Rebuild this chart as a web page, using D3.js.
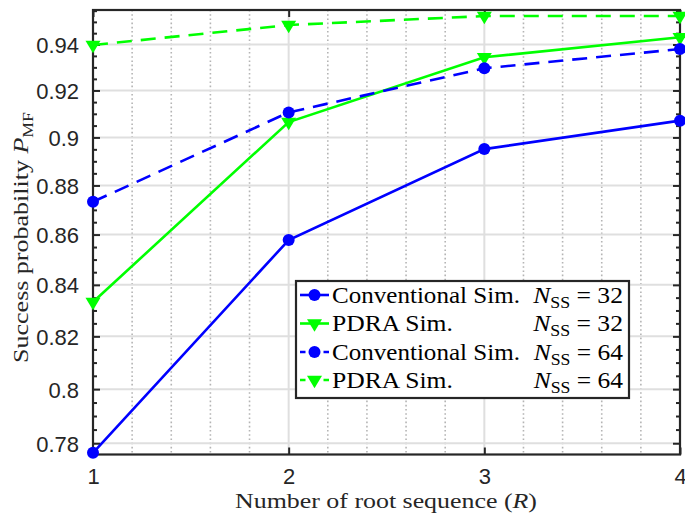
<!DOCTYPE html>
<html><head><meta charset="utf-8">
<script src="https://cdn.jsdelivr.net/npm/d3@7"></script>
<style>body{margin:0;background:#fff}</style>
</head><body>
<svg id="chart" width="685" height="516"></svg>
<script>
// ---- data ----
const roots = [1, 2, 3, 4];
const convSim32 = [0.7765, 0.8578, 0.8951, 0.9071];
const pdraSim32 = [0.8333, 0.9065, 0.9344, 0.9432];
const convSim64 = [0.8733, 0.9106, 0.9296, 0.9380];
const pdraSim64 = [0.9398, 0.9486, 0.9526, 0.9526];
const yTicks = [0.78, 0.80, 0.82, 0.84, 0.86, 0.88, 0.90, 0.92, 0.94];
const yTickLabels = ["0.78", "0.8", "0.82", "0.84", "0.86", "0.88", "0.9", "0.92", "0.94"];
const xTicks = [1, 2, 3, 4];
const xTickLabels = ["1", "2", "3", "4"];
const yDomain = [0.7759, 0.9553];
const xDomain = [1, 4];
const legendNames = ["Conventional Sim.", "PDRA Sim.", "Conventional Sim.", "PDRA Sim."];
const legendN = ["32", "32", "64", "64"];

// ---- styles ----
const series = [
  {vals: convSim32, color: "#0000ff", dashed: false, marker: "circle"},
  {vals: pdraSim32, color: "#00ff00", dashed: false, marker: "tri"},
  {vals: convSim64, color: "#0000ff", dashed: true, marker: "circle"},
  {vals: pdraSim64, color: "#00ff00", dashed: true, marker: "tri"}
];
const L = 93, R = 680, T = 10, B = 454.5;
const svg = d3.select("#chart");
const x = d3.scaleLinear().domain(xDomain).range([L, R]);
const y = d3.scaleLog().domain(yDomain).range([B, T]);
const axisColor = "#262626";
const serif = "'Liberation Serif','Times New Roman',serif";
const sans = "'Liberation Sans',Arial,Helvetica,sans-serif";

// grid
const g = svg.append("g");
const minorX = d3.range(5, 21).filter(i => i % 5 !== 0).map(i => i * 0.2);
g.selectAll(".mx").data(minorX).enter().append("line")
  .attr("x1", d => x(d)).attr("x2", d => x(d)).attr("y1", T).attr("y2", B)
  .attr("stroke", "#b4b4b4").attr("stroke-width", 1.6).attr("stroke-dasharray", "1.6,2.6");
g.selectAll(".gy").data(yTicks).enter().append("line")
  .attr("x1", L).attr("x2", R).attr("y1", d => y(d)).attr("y2", d => y(d))
  .attr("stroke", "#dfdfdf").attr("stroke-width", 2);
g.selectAll(".gx").data(xTicks.slice(1, -1)).enter().append("line")
  .attr("x1", d => x(d)).attr("x2", d => x(d)).attr("y1", T).attr("y2", B)
  .attr("stroke", "#dfdfdf").attr("stroke-width", 2);

// axes via d3 axis generators
const minorY = d3.range(156, 192).filter(i => i % 4 !== 0).map(i => i * 0.005);
function styleAxis(sel) {
  sel.select(".domain").remove();
  sel.selectAll(".tick line").attr("stroke", axisColor).attr("stroke-width", 2);
  sel.selectAll(".tick text").attr("fill", axisColor).style("font-family", sans).style("font-size", "22px");
}
const yLeft = svg.append("g").attr("transform", `translate(${L},0)`)
  .call(d3.axisLeft(y).tickValues(yTicks).tickFormat((d, i) => yTickLabels[i]).tickSizeInner(-7).tickSizeOuter(0).tickPadding(14));
styleAxis(yLeft);
yLeft.selectAll(".tick text").attr("dy", "0.36em");
const yLeftMinor = svg.append("g").attr("transform", `translate(${L},0)`)
  .call(d3.axisLeft(y).tickValues(minorY).tickFormat("").tickSizeInner(-4).tickSizeOuter(0));
styleAxis(yLeftMinor);
const yRight = svg.append("g").attr("transform", `translate(${R},0)`)
  .call(d3.axisRight(y).tickValues(yTicks).tickFormat("").tickSizeInner(-7).tickSizeOuter(0));
styleAxis(yRight);
const yRightMinor = svg.append("g").attr("transform", `translate(${R},0)`)
  .call(d3.axisRight(y).tickValues(minorY).tickFormat("").tickSizeInner(-4).tickSizeOuter(0));
styleAxis(yRightMinor);
const xBottom = svg.append("g").attr("transform", `translate(0,${B})`)
  .call(d3.axisBottom(x).tickValues(xTicks).tickFormat((d, i) => xTickLabels[i]).tickSizeInner(-7).tickSizeOuter(0).tickPadding(14));
styleAxis(xBottom);
xBottom.selectAll(".tick text").attr("dy", "0.71em");
const xTop = svg.append("g").attr("transform", `translate(0,${T})`)
  .call(d3.axisTop(x).tickValues(xTicks).tickFormat("").tickSizeInner(-7).tickSizeOuter(0));
styleAxis(xTop);

svg.append("rect").attr("x", L).attr("y", T).attr("width", R - L).attr("height", B - T)
  .attr("fill", "none").attr("stroke", axisColor).attr("stroke-width", 2.2);

// markers
const triPath = "M-7.5,-4.2L7.5,-4.2L0,8.2Z";
function drawMarker(sel, type, color) {
  if (type === "circle") sel.append("circle").attr("r", 6).attr("fill", color);
  else sel.append("path").attr("d", triPath).attr("fill", color);
}

// data lines
const line = d3.line().x((d, i) => x(roots[i])).y(d => y(d));
series.forEach(s => {
  svg.append("path").attr("d", line(s.vals)).attr("fill", "none")
    .attr("stroke", s.color).attr("stroke-width", 2.6)
    .attr("stroke-dasharray", s.dashed ? "15,9" : null);
  s.vals.forEach((v, i) => {
    const m = svg.append("g").attr("transform", `translate(${x(roots[i])},${y(v)})`);
    drawMarker(m, s.marker, s.color);
  });
});

// text fitting helper
function fit(sel, tx, ty, width, anchor, rot) {
  sel.attr("text-anchor", anchor);
  const w = sel.node().getBBox().width;
  const k = width / w;
  sel.attr("transform", `translate(${tx},${ty})${rot ? ` rotate(${rot})` : ""} scale(${k},1)`);
}

// legend
const lg = svg.append("g");
const lgX = 296, lgY = 281, lgW = 333, lgH = 117;
lg.append("rect").attr("x", lgX).attr("y", lgY).attr("width", lgW).attr("height", lgH)
  .attr("fill", "#fff").attr("stroke", axisColor).attr("stroke-width", 2.2);
const rowY = [295, 323.5, 352, 380];
series.forEach((s, i) => {
  const cy = rowY[i];
  lg.append("line").attr("x1", 300).attr("x2", 329).attr("y1", cy).attr("y2", cy)
    .attr("stroke", s.color).attr("stroke-width", 2.6)
    .attr("stroke-dasharray", s.dashed ? "5.5,18,6" : null);
  const m = lg.append("g").attr("transform", `translate(314.5,${cy})`);
  drawMarker(m, s.marker, s.color);
  const t = lg.append("text").attr("fill", "#000").style("font-family", serif).style("font-size", "23px")
    .text(legendNames[i]);
  fit(t, 332, cy + 7.5, i % 2 === 0 ? 188 : 121, "start");
  const n = lg.append("text").attr("fill", "#000").style("font-family", serif).style("font-size", "23px");
  n.append("tspan").style("font-style", "italic").text("N");
  n.append("tspan").attr("dy", 5).style("font-size", "16px").text("SS");
  n.append("tspan").attr("dy", -5).text(" = " + legendN[i]);
  fit(n, 623, cy + 7.5, 91, "end");
});

// axis labels
const xl = svg.append("text").attr("fill", axisColor).style("font-family", serif).style("font-size", "22px");
xl.append("tspan").text("Number of root sequence (");
xl.append("tspan").style("font-style", "italic").text("R");
xl.append("tspan").text(")");
fit(xl, 386, 508, 302, "middle");

const yl = svg.append("text").attr("fill", axisColor).style("font-family", serif).style("font-size", "22px");
yl.append("tspan").text("Success probability ");
yl.append("tspan").style("font-style", "italic").text("P");
yl.append("tspan").attr("dy", 5).style("font-size", "15px").text("MF");
fit(yl, 28, 237.5, 251, "middle", -90);
</script>
</body></html>
